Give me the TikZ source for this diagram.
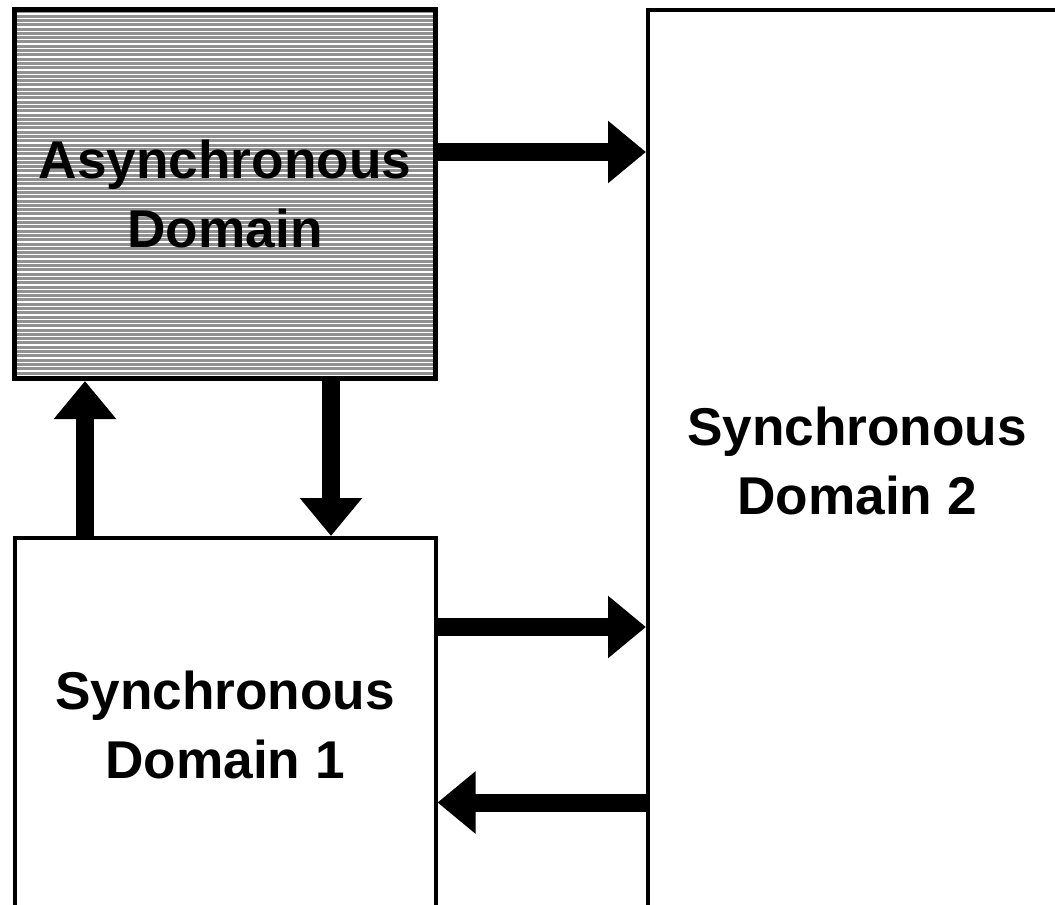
\documentclass[tikz,border=0pt]{standalone}
\usepackage{fontspec}
\setmainfont{Liberation Sans}
\usetikzlibrary{arrows.meta}
\definecolor{hatchgray}{gray}{0.57}

\begin{document}
\begin{tikzpicture}[x=0.5pt,y=-0.5pt,>={Triangle[length=19pt,width=30pt]},
    bigarrow/.style={->,line width=9pt},
    domainbox/.style={draw,line width=2pt,minimum width=210.5pt,align=center,
      font=\fontsize{26.6}{34.5}\selectfont\bfseries}]
  \useasboundingbox (0,0) rectangle (1055,905);
  \clip (0,0) rectangle (1055,905);

  % the three clock domains
  \node[domainbox,fill=hatchgray,line width=2.5pt,minimum height=184.5pt] (async) at (225,194) {};
  \foreach \y in {14,18.3,...,376}
    \draw[white,line width=0.65pt] (17,\y) -- (433,\y);
  \node[domainbox,draw=none] (asynctext) at (async) {Asynchronous\\Domain};
  \node[domainbox,minimum height=187pt] (sync1) at (225,725) {Synchronous\\Domain 1};
  \node[domainbox,minimum width=209pt,minimum height=451.25pt] (sync2) at (857,460.75) {Synchronous\\Domain 2};

  % data paths between them
  \draw[bigarrow] (async.east |- 0,152) -- (sync2.west |- 0,152);
  \draw[bigarrow] (sync1.north -| 85,0) -- (async.south -| 85,0);
  \draw[bigarrow] (async.south -| 331,0) -- (sync1.north -| 331,0);
  \draw[bigarrow] (sync1.east |- 0,627) -- (sync2.west |- 0,627);
  \draw[bigarrow] (sync2.west |- 0,802.5) -- (sync1.east |- 0,802.5);
\end{tikzpicture}
\end{document}
